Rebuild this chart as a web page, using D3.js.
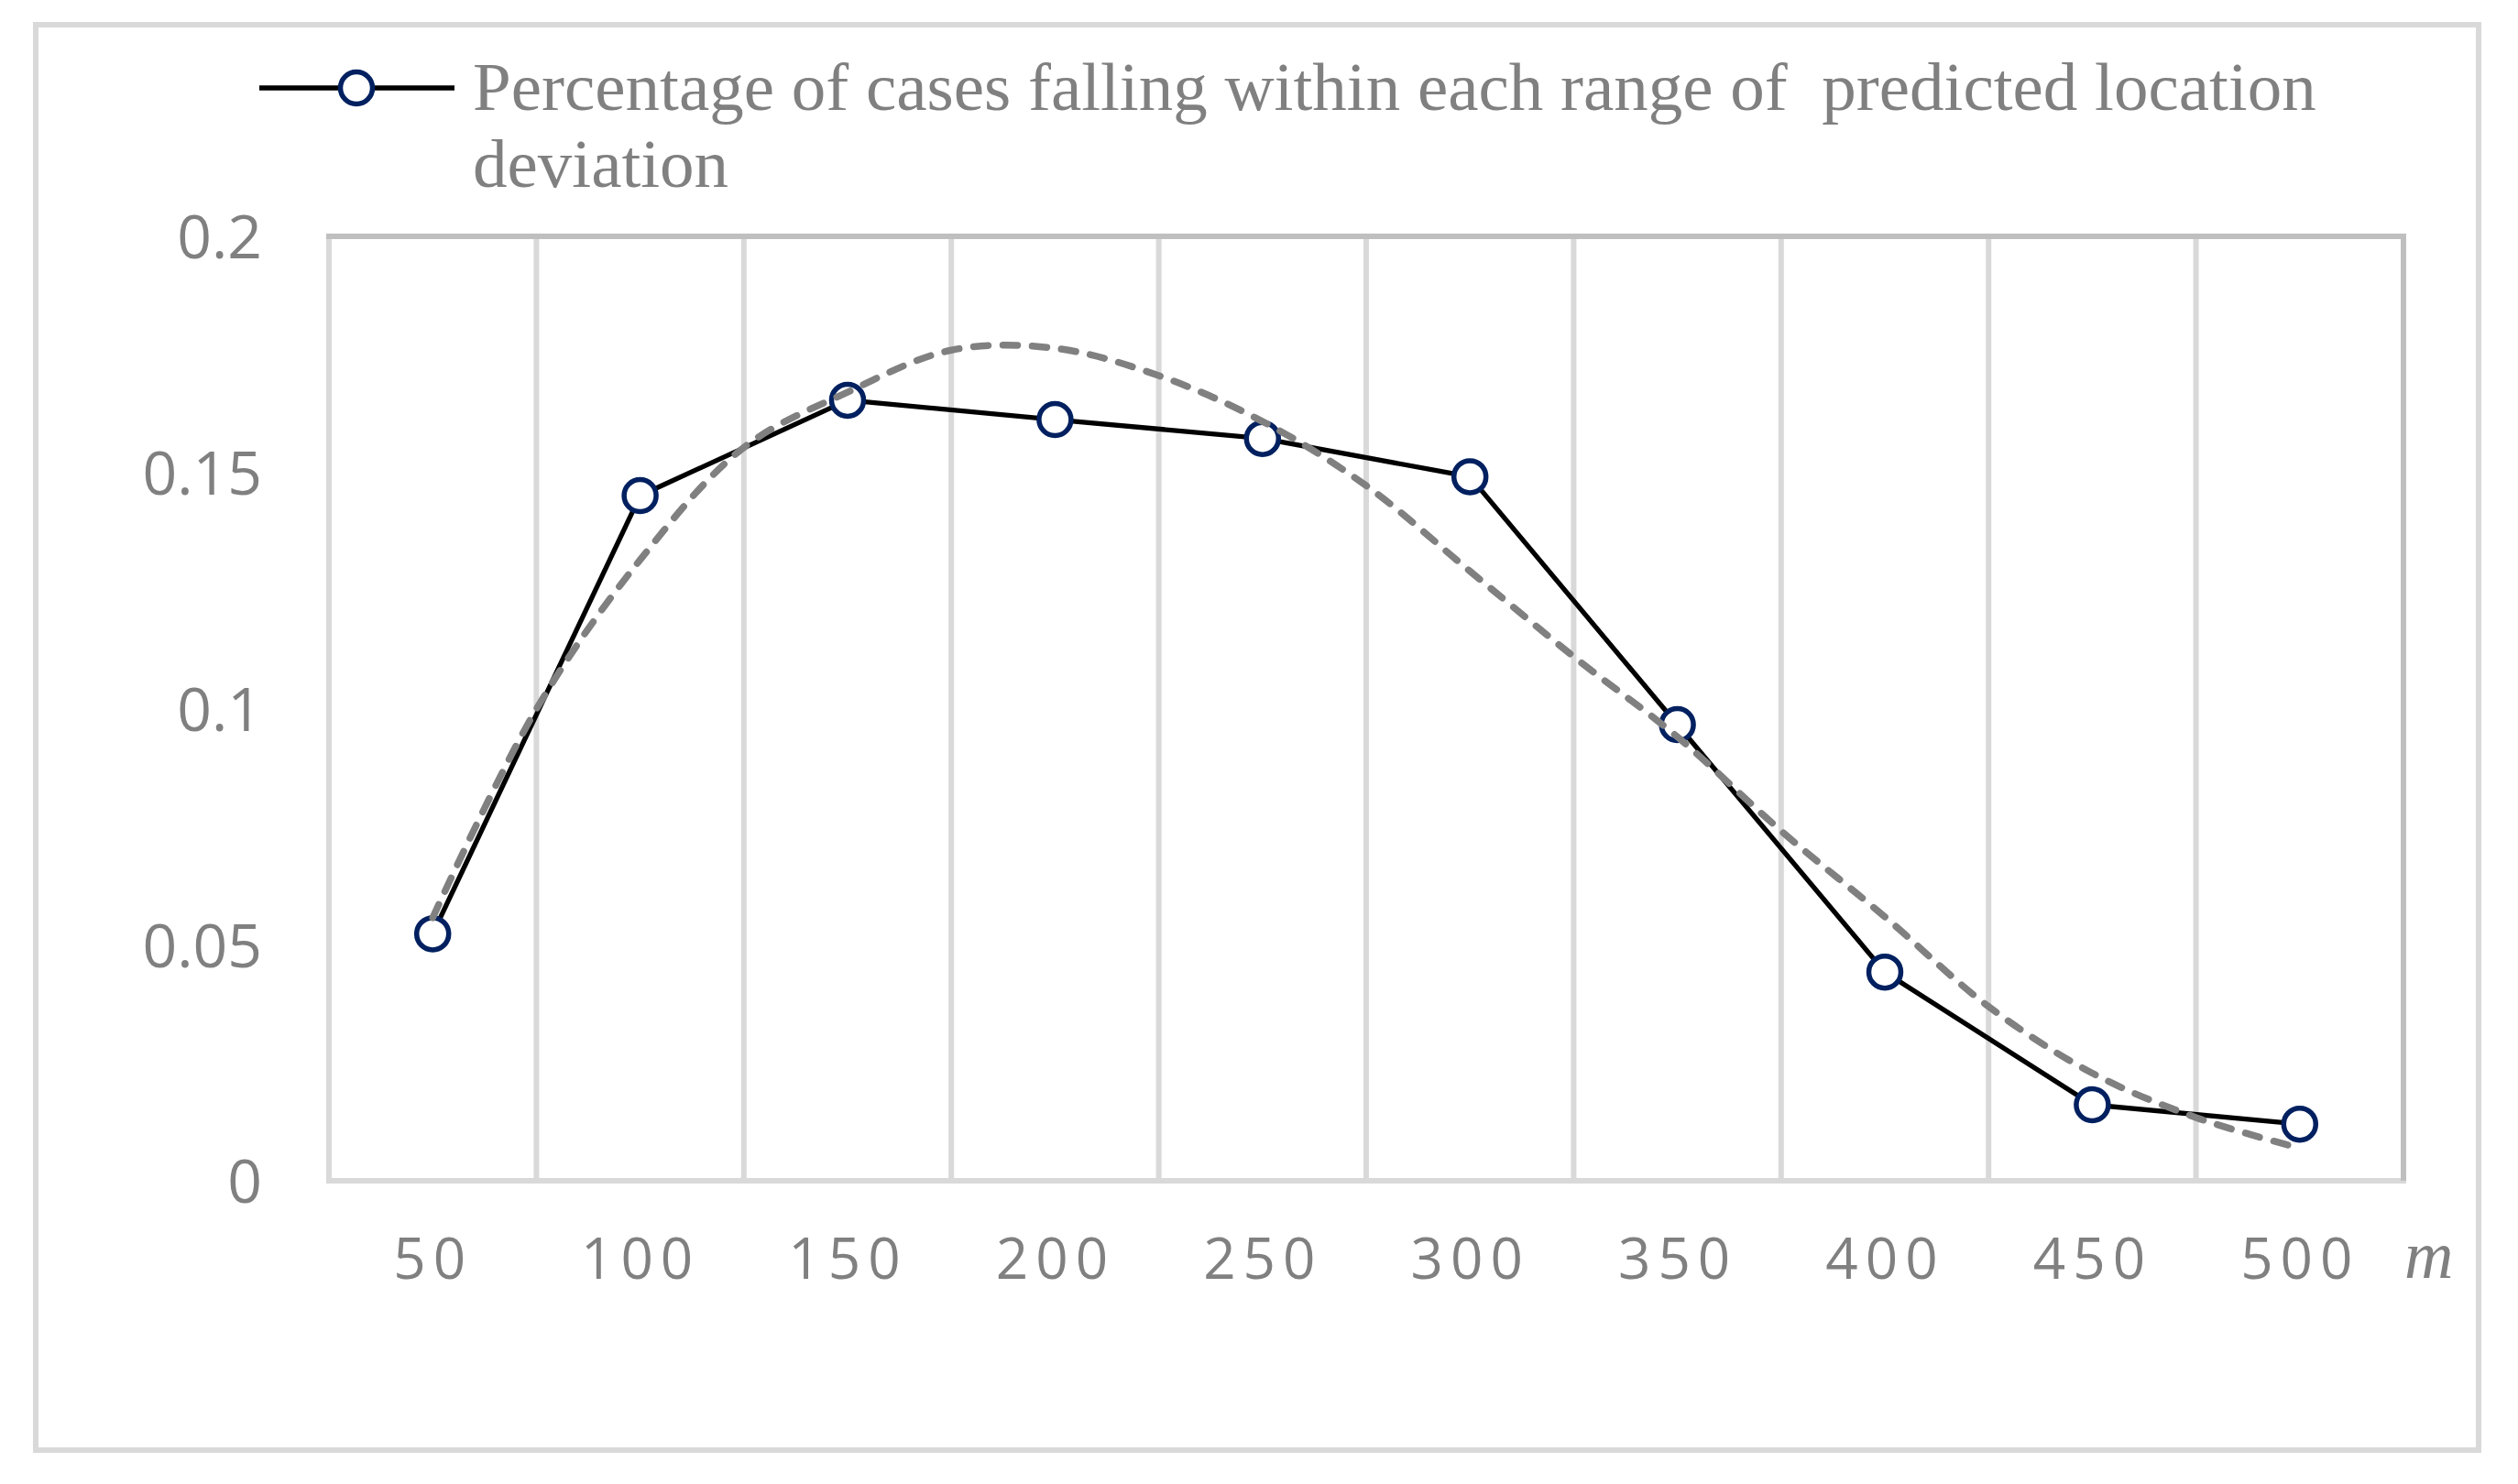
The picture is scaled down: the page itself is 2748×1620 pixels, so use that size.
<!DOCTYPE html>
<html>
<head>
<meta charset="utf-8">
<script src="https://cdnjs.cloudflare.com/ajax/libs/d3/7.8.5/d3.min.js"></script>
<style>
  body { margin: 0; background: #fff; }
  svg { display: block; }
</style>
</head>
<body>
<div id="chart"></div>
<script>
// values
var categories = [50, 100, 150, 200, 250, 300, 350, 400, 450, 500];
var shares = [0.0523, 0.1451, 0.1653, 0.1612, 0.1572, 0.1491, 0.0966, 0.0442, 0.0161, 0.0120];

// dashed trend curve, sampled every 25 m from the picture
var trendAt = [50, 75, 100, 125, 150, 175, 200, 225, 250, 275, 300, 325, 350, 375, 400, 425, 450, 475, 500];
var trendValues = [0.0557, 0.0999, 0.1315, 0.1553, 0.1670, 0.1759, 0.1763, 0.1705, 0.1608, 0.1472,
                   0.1291, 0.1110, 0.0940, 0.0741, 0.0559, 0.0369, 0.0228, 0.0134, 0.0069];

var yTicks = [0, 0.05, 0.1, 0.15, 0.2];
var gridAt = [75, 125, 175, 225, 275, 325, 375, 425, 475];
var legendLines = ["Percentage of cases falling within each range of  predicted location", "deviation"];
var unitLabel = "m";

var W = 2748, H = 1620;
var plot = { left: 359, right: 2623, top: 258, bottom: 1289 };
var grey = "#808080";

var svg = d3.select("#chart")
  .append("svg")
  .attr("width", W)
  .attr("height", H);

// outer chart frame
svg.append("rect")
  .attr("x", 39).attr("y", 27)
  .attr("width", 2705 - 39).attr("height", 1583 - 27)
  .style("fill", "none")
  .style("stroke", "#d9d9d9")
  .style("stroke-width", 6);

var xScale = d3.scaleLinear()
  .domain([25, 525])
  .range([plot.left, plot.right]);

var yScale = d3.scaleLinear()
  .domain([0, 0.2])
  .range([plot.bottom, plot.top]);

// vertical gridlines between categories
svg.append("g")
  .selectAll("line")
  .data(gridAt)
  .enter().append("line")
  .attr("x1", function(d) { return xScale(d); })
  .attr("x2", function(d) { return xScale(d); })
  .attr("y1", plot.top)
  .attr("y2", plot.bottom)
  .style("stroke", "#d9d9d9")
  .style("stroke-width", 6);

// plot frame: light left/bottom, darker top/right
svg.append("line")
  .attr("x1", plot.left).attr("x2", plot.left)
  .attr("y1", plot.top - 3).attr("y2", plot.bottom + 3)
  .style("stroke", "#d9d9d9").style("stroke-width", 6);
svg.append("line")
  .attr("x1", plot.left - 3).attr("x2", plot.right + 3)
  .attr("y1", plot.bottom).attr("y2", plot.bottom)
  .style("stroke", "#d9d9d9").style("stroke-width", 6);
svg.append("line")
  .attr("x1", plot.left - 3).attr("x2", plot.right + 3)
  .attr("y1", plot.top).attr("y2", plot.top)
  .style("stroke", "#bfbfbf").style("stroke-width", 6);
svg.append("line")
  .attr("x1", plot.right).attr("x2", plot.right)
  .attr("y1", plot.top - 3).attr("y2", plot.bottom)
  .style("stroke", "#bfbfbf").style("stroke-width", 6);

// y axis labels
var yAxis = svg.append("g")
  .attr("transform", "translate(" + plot.left + ",0)")
  .call(d3.axisLeft(yScale)
    .tickValues(yTicks)
    .tickSize(0)
    .tickPadding(73)
    .tickFormat(function(d) { return String(d); }));
yAxis.select(".domain").remove();
yAxis.selectAll("text")
  .style("font-family", "'Open Sans', sans-serif")
  .style("font-size", "66px")
  .style("fill", grey)
  .attr("dy", "0.36em");

// x axis labels (spaced digits)
var xAxis = svg.append("g")
  .attr("transform", "translate(0," + plot.bottom + ")")
  .call(d3.axisBottom(xScale)
    .tickValues(categories)
    .tickSize(0)
    .tickFormat(function(d) { return String(d); }));
xAxis.select(".domain").remove();
xAxis.selectAll("text")
  .attr("y", 107)
  .attr("dy", 0)
  .style("font-family", "'Open Sans', sans-serif")
  .style("font-size", "62px")
  .style("letter-spacing", "8px")
  .style("fill", grey);

svg.append("text")
  .attr("x", 2624)
  .attr("y", 1395)
  .style("font-family", "'Liberation Serif', serif")
  .style("font-style", "italic")
  .style("font-size", "74px")
  .style("fill", grey)
  .text(unitLabel);

var data = categories.map(function(c, i) { return { x: c, y: shares[i] }; });
var trend = trendAt.map(function(c, i) { return { x: c, y: trendValues[i] }; });

var valueline = d3.line()
  .x(function(d) { return xScale(d.x); })
  .y(function(d) { return yScale(d.y); });

var trendline = d3.line()
  .curve(d3.curveCatmullRom)
  .x(function(d) { return xScale(d.x); })
  .y(function(d) { return yScale(d.y); });

svg.append("path")
  .datum(data)
  .attr("d", valueline)
  .style("fill", "none")
  .style("stroke", "#000")
  .style("stroke-width", 5.3)
  .style("stroke-linejoin", "round");

svg.selectAll("circle.pt")
  .data(data)
  .enter().append("circle")
  .attr("class", "pt")
  .attr("cx", function(d) { return xScale(d.x); })
  .attr("cy", function(d) { return yScale(d.y); })
  .attr("r", 17.5)
  .style("fill", "#fff")
  .style("stroke", "#002060")
  .style("stroke-width", 5.5);

svg.append("path")
  .datum(trend)
  .attr("d", trendline)
  .style("fill", "none")
  .style("stroke", grey)
  .style("stroke-width", 7.5)
  .style("stroke-dasharray", "16,16")
  .style("stroke-linecap", "round");

// legend
var legend = svg.append("g");
legend.append("line")
  .attr("x1", 283).attr("x2", 496)
  .attr("y1", 96).attr("y2", 96)
  .style("stroke", "#000")
  .style("stroke-width", 5.3);
legend.append("circle")
  .attr("cx", 389).attr("cy", 96)
  .attr("r", 17.5)
  .style("fill", "#fff")
  .style("stroke", "#002060")
  .style("stroke-width", 5.5);
var legendText = legend.append("text")
  .attr("x", 516)
  .attr("y", 120)
  .style("font-family", "'Liberation Serif', 'Times New Roman', serif")
  .style("font-size", "75px")
  .style("fill", grey)
  .style("white-space", "pre");
legendText.selectAll("tspan")
  .data(legendLines)
  .enter().append("tspan")
  .attr("x", 516)
  .attr("dy", function(d, i) { return i === 0 ? 0 : 84; })
  .text(function(d) { return d; });
</script>
</body>
</html>
